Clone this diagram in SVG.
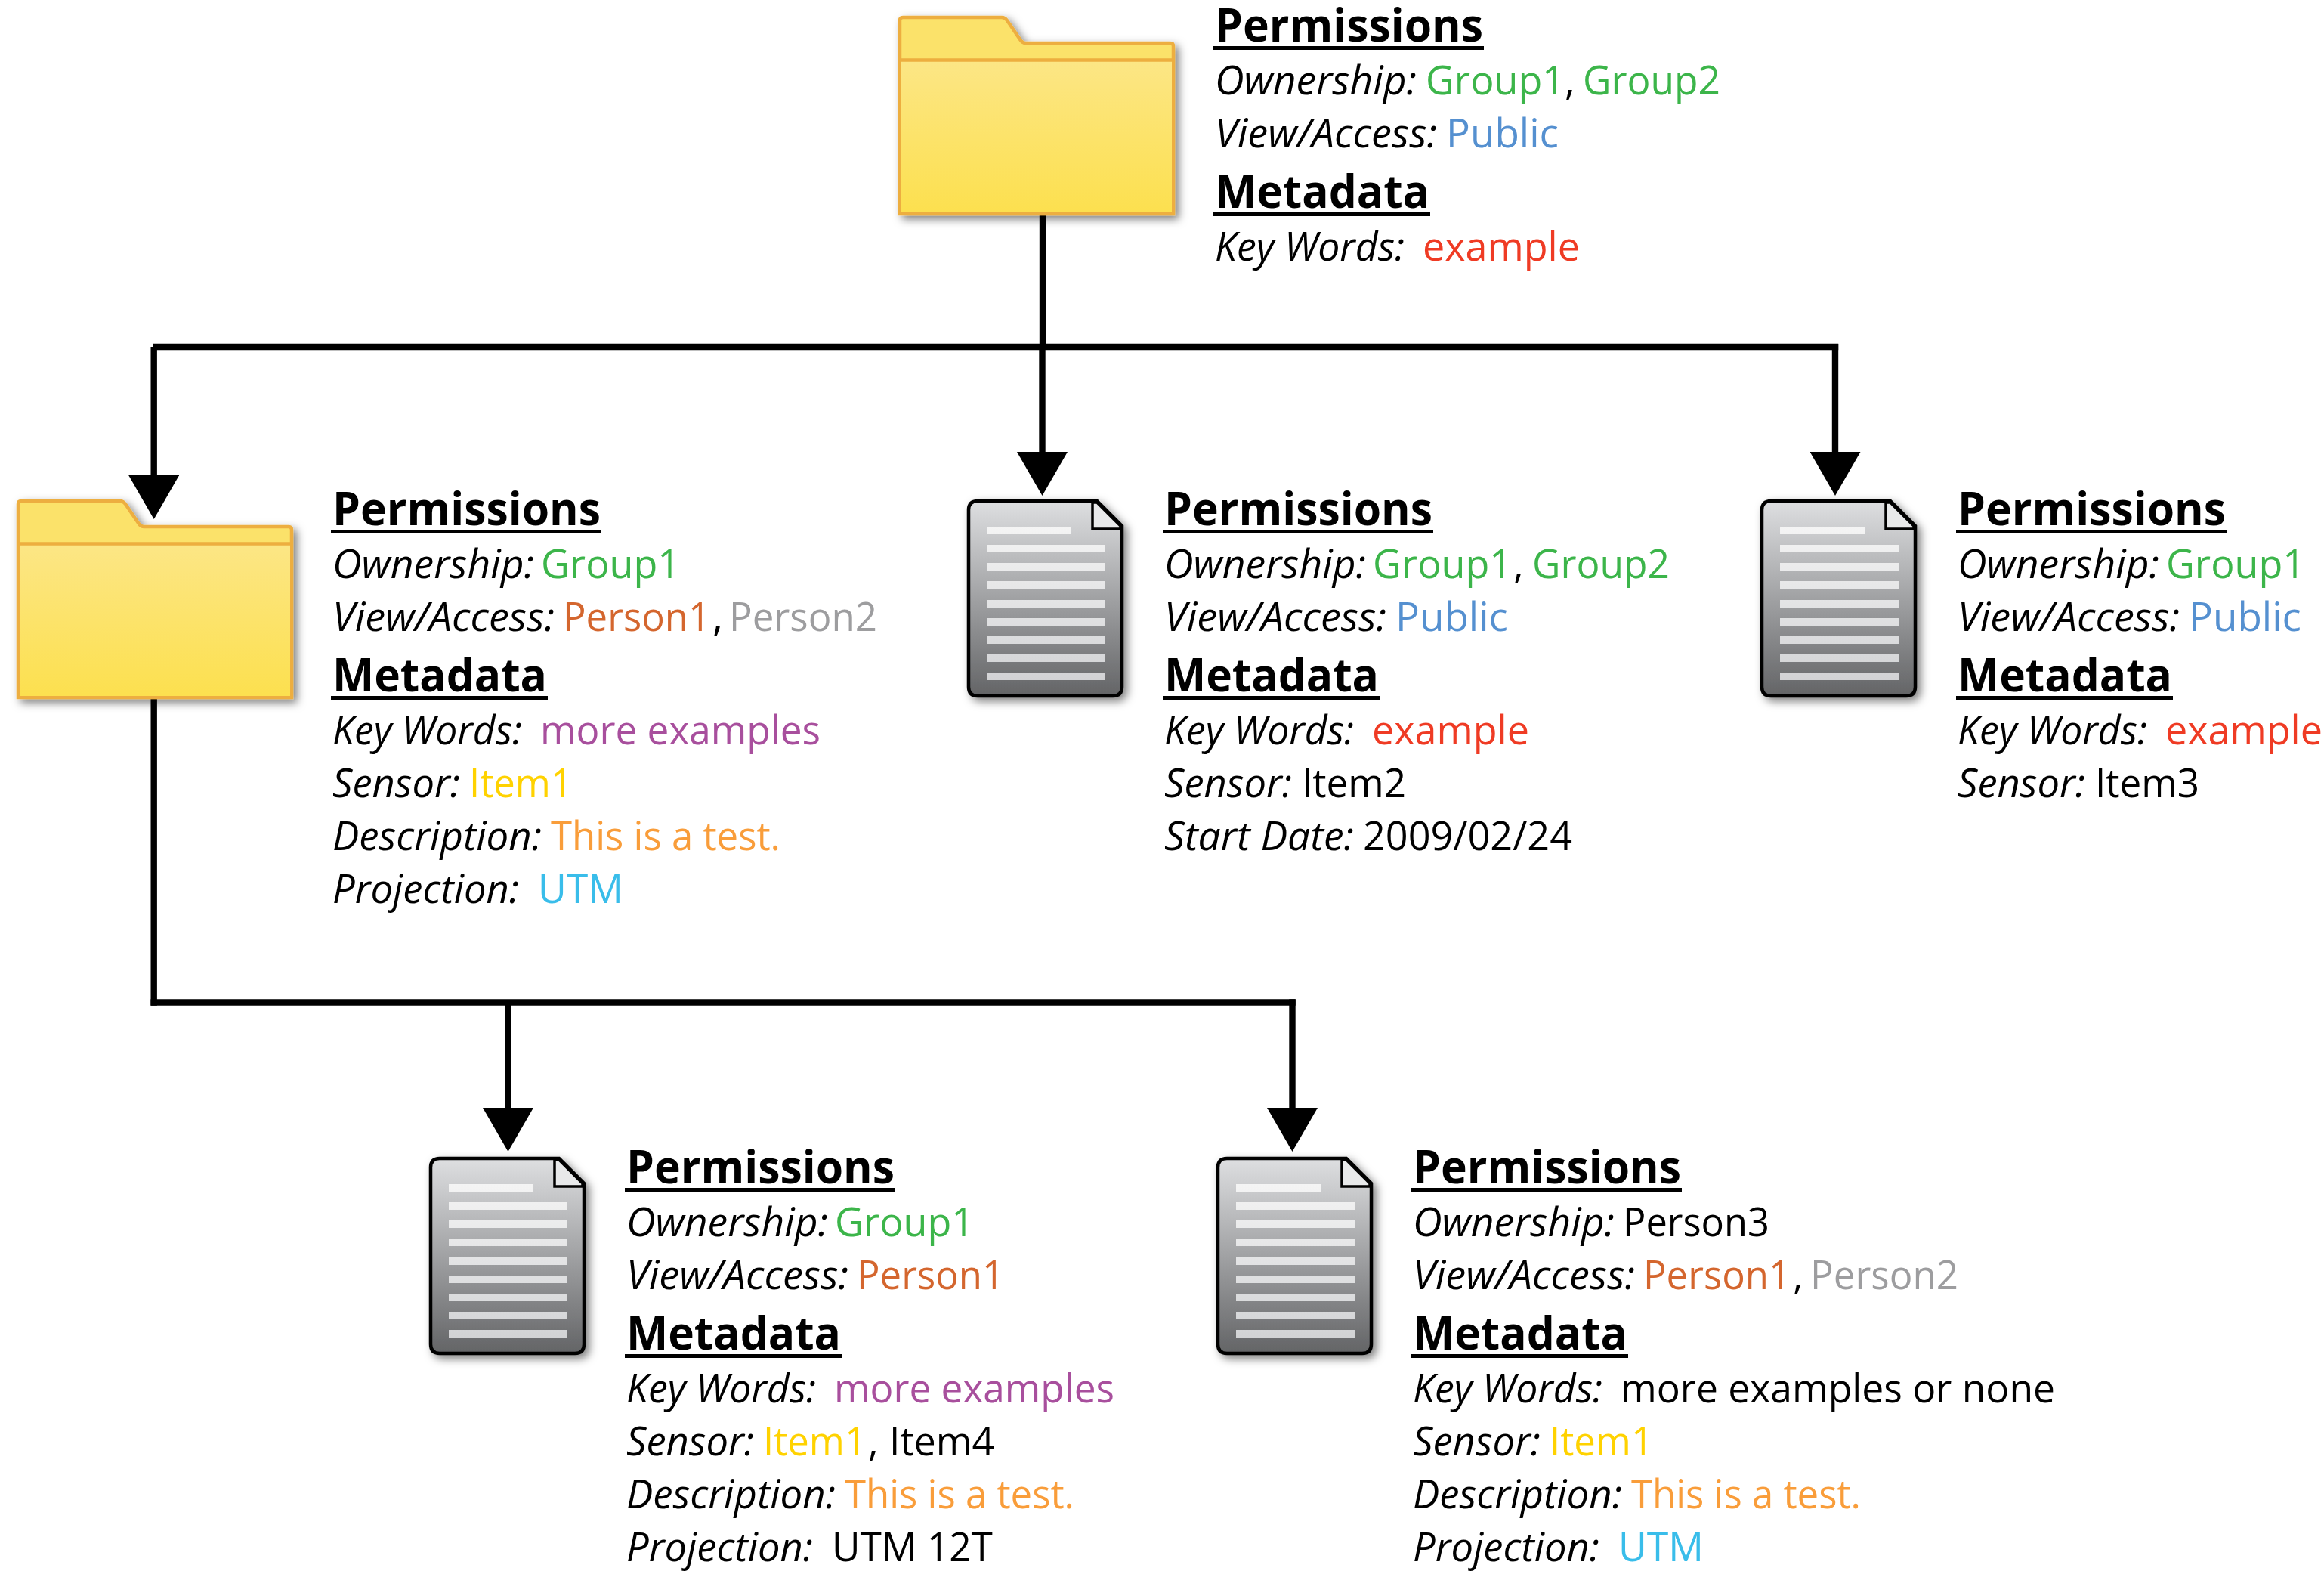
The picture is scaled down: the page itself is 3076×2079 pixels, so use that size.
<svg xmlns="http://www.w3.org/2000/svg" width="3076" height="2079" viewBox="0 0 3076 2079">
<style>
text{font-family:"Open Sans","Noto Sans","Liberation Sans",sans-serif;font-size:53px;fill:#000}
.h{font-weight:700;font-size:60px}
.i{font-style:italic}
.g{fill:#3CB54A}.b{fill:#5590D0}.r{fill:#EF3B24}.o{fill:#D4662E}.n{fill:#9D9D9F}.p{fill:#A84F9D}.y{fill:#FFD200}.t{fill:#F99D3A}.c{fill:#39BDEA}
.u{fill:#000}
.conn{fill:none;stroke:#000;stroke-width:8.400;stroke-linejoin:miter}
</style>
<defs>
<filter id="shadow" x="-15%" y="-15%" width="130%" height="130%"><feDropShadow dx="5" dy="5" stdDeviation="6" flood-color="#000" flood-opacity="0.5"/></filter>
<linearGradient id="fg" x1="0" y1="0" x2="0" y2="1"><stop offset="0" stop-color="#FCE685"/><stop offset="1" stop-color="#FCE04F"/></linearGradient>
<linearGradient id="dg" x1="0" y1="0" x2="0" y2="1"><stop offset="0" stop-color="#DEDFE1"/><stop offset="1" stop-color="#636466"/></linearGradient>
<linearGradient id="lg" gradientUnits="userSpaceOnUse" x1="0" y1="697" x2="0" y2="900"><stop offset="0" stop-color="#F4F4F4"/><stop offset="1" stop-color="#D2D3D5"/></linearGradient>
<marker id="ah" markerUnits="userSpaceOnUse" markerWidth="58" markerHeight="67" viewBox="0 0 58 67" refX="1" refY="33.500" orient="auto"><path d="M0 0L58 33.500L0 67Z" fill="#000"/></marker>
<g id="folder">
<path d="M1191 283V27Q1191 23 1195 23H1326Q1330 23 1333 27L1350 52Q1353 57 1358 57H1549Q1553 57 1553 61V283Z" fill="#FBE26B" stroke="#EDAE3F" stroke-width="4.500" filter="url(#shadow)"/>
<rect x="1193" y="81" width="358" height="200" fill="url(#fg)"/>
<path d="M1191 79.500H1553" stroke="#EDAE3F" stroke-width="4.500"/>
</g>
<g id="doc">
<path d="M1294 663H1452L1485 696V909Q1485 921 1473 921H1294Q1282 921 1282 909V675Q1282 663 1294 663Z" fill="url(#dg)" stroke="#000" stroke-width="4.500" filter="url(#shadow)"/>
<path d="M1446 665H1452L1483 696V700H1446Z" fill="#E8E9EA" stroke="#000" stroke-width="3.500"/>
<g fill="url(#lg)">
<rect x="1306" y="697" width="112" height="10"/><rect x="1306" y="721" width="157" height="10"/><rect x="1306" y="745" width="157" height="10"/><rect x="1306" y="769" width="157" height="10"/><rect x="1306" y="794" width="157" height="10"/><rect x="1306" y="818" width="157" height="10"/><rect x="1306" y="842" width="157" height="10"/><rect x="1306" y="866" width="157" height="10"/><rect x="1306" y="890" width="157" height="10"/>
</g>
</g>
<g id="ul"><rect class="u" x="-2" y="6" width="358" height="5"/><rect class="u" x="-2" y="226" width="287" height="5"/></g>
</defs>

<g id="connectors">
<path class="conn" d="M1380 285V459"/>
<path class="conn" d="M203 459H2433.200"/>
<path class="conn" d="M203.700 459V630" marker-end="url(#ah)"/>
<path class="conn" d="M1379.500 459V599" marker-end="url(#ah)"/>
<path class="conn" d="M2429 455V599" marker-end="url(#ah)"/>
<path class="conn" d="M203.700 925V1330.700"/>
<path class="conn" d="M199.500 1326.500H1714.700"/>
<path class="conn" d="M672.500 1326.500V1467" marker-end="url(#ah)"/>
<path class="conn" d="M1710.500 1322.300V1467" marker-end="url(#ah)"/>
</g>

<g id="node-root">
<use href="#folder"/>
<g transform="translate(1608,55)"><use href="#ul"/>
<text class="h" x="0" y="0" textLength="355" lengthAdjust="spacingAndGlyphs">Permissions</text>
<text class="h" x="0" y="220" textLength="284" lengthAdjust="spacingAndGlyphs">Metadata</text>
<text class="i" x="0" y="70" textLength="267" lengthAdjust="spacingAndGlyphs">Ownership:</text>
<text class="i" x="0" y="140" textLength="294" lengthAdjust="spacingAndGlyphs">View/Access:</text>
<text class="i" x="0" y="290" textLength="251" lengthAdjust="spacingAndGlyphs">Key Words:</text>
<text class="g" x="279" y="70" textLength="184" lengthAdjust="spacingAndGlyphs">Group1</text><text x="463" y="70">,</text><text class="g" x="487" y="70" textLength="182" lengthAdjust="spacingAndGlyphs">Group2</text>
<text class="b" x="306" y="140" textLength="149" lengthAdjust="spacingAndGlyphs">Public</text>
<text class="r" x="275" y="290" textLength="208" lengthAdjust="spacingAndGlyphs">example</text>
</g>
</g>

<g id="node-folder2">
<use href="#folder" transform="translate(-1167,640)"/>
<g transform="translate(440,695)"><use href="#ul"/>
<text class="h" x="0" y="0" textLength="355" lengthAdjust="spacingAndGlyphs">Permissions</text>
<text class="h" x="0" y="220" textLength="284" lengthAdjust="spacingAndGlyphs">Metadata</text>
<text class="i" x="0" y="70" textLength="267" lengthAdjust="spacingAndGlyphs">Ownership:</text>
<text class="i" x="0" y="140" textLength="294" lengthAdjust="spacingAndGlyphs">View/Access:</text>
<text class="i" x="0" y="290" textLength="251" lengthAdjust="spacingAndGlyphs">Key Words:</text>
<text class="g" x="276" y="70" textLength="184" lengthAdjust="spacingAndGlyphs">Group1</text>
<text class="o" x="305" y="140" textLength="195" lengthAdjust="spacingAndGlyphs">Person1</text><text x="503" y="140">,</text><text class="n" x="525" y="140" textLength="196" lengthAdjust="spacingAndGlyphs">Person2</text>
<text class="p" x="275" y="290" textLength="371" lengthAdjust="spacingAndGlyphs">more examples</text>
<text class="i" x="0" y="360" textLength="169" lengthAdjust="spacingAndGlyphs">Sensor:</text><text class="y" x="181" y="360" textLength="137" lengthAdjust="spacingAndGlyphs">Item1</text>
<text class="i" x="0" y="430" textLength="277" lengthAdjust="spacingAndGlyphs">Description:</text><text class="t" x="289" y="430" textLength="304" lengthAdjust="spacingAndGlyphs">This is a test.</text>
<text class="i" x="0" y="500" textLength="247" lengthAdjust="spacingAndGlyphs">Projection:</text><text class="c" x="272" y="500" textLength="113" lengthAdjust="spacingAndGlyphs">UTM</text>
</g>
</g>

<g id="node-doc2">
<use href="#doc"/>
<g transform="translate(1541,695)"><use href="#ul"/>
<text class="h" x="0" y="0" textLength="355" lengthAdjust="spacingAndGlyphs">Permissions</text>
<text class="h" x="0" y="220" textLength="284" lengthAdjust="spacingAndGlyphs">Metadata</text>
<text class="i" x="0" y="70" textLength="267" lengthAdjust="spacingAndGlyphs">Ownership:</text>
<text class="i" x="0" y="140" textLength="294" lengthAdjust="spacingAndGlyphs">View/Access:</text>
<text class="i" x="0" y="290" textLength="251" lengthAdjust="spacingAndGlyphs">Key Words:</text>
<text class="g" x="276" y="70" textLength="184" lengthAdjust="spacingAndGlyphs">Group1</text><text x="462" y="70">,</text><text class="g" x="487" y="70" textLength="182" lengthAdjust="spacingAndGlyphs">Group2</text>
<text class="b" x="306" y="140" textLength="149" lengthAdjust="spacingAndGlyphs">Public</text>
<text class="r" x="275" y="290" textLength="208" lengthAdjust="spacingAndGlyphs">example</text>
<text class="i" x="0" y="360" textLength="169" lengthAdjust="spacingAndGlyphs">Sensor:</text><text x="182" y="360" textLength="138" lengthAdjust="spacingAndGlyphs">Item2</text>
<text class="i" x="0" y="430" textLength="251" lengthAdjust="spacingAndGlyphs">Start Date:</text><text x="263" y="430" textLength="277" lengthAdjust="spacingAndGlyphs">2009/02/24</text>
</g>
</g>

<g id="node-doc3">
<use href="#doc" transform="translate(1050,0)"/>
<g transform="translate(2591,695)"><use href="#ul"/>
<text class="h" x="0" y="0" textLength="355" lengthAdjust="spacingAndGlyphs">Permissions</text>
<text class="h" x="0" y="220" textLength="284" lengthAdjust="spacingAndGlyphs">Metadata</text>
<text class="i" x="0" y="70" textLength="267" lengthAdjust="spacingAndGlyphs">Ownership:</text>
<text class="i" x="0" y="140" textLength="294" lengthAdjust="spacingAndGlyphs">View/Access:</text>
<text class="i" x="0" y="290" textLength="251" lengthAdjust="spacingAndGlyphs">Key Words:</text>
<text class="g" x="276" y="70" textLength="184" lengthAdjust="spacingAndGlyphs">Group1</text>
<text class="b" x="306" y="140" textLength="149" lengthAdjust="spacingAndGlyphs">Public</text>
<text class="r" x="275" y="290" textLength="208" lengthAdjust="spacingAndGlyphs">example</text>
<text class="i" x="0" y="360" textLength="169" lengthAdjust="spacingAndGlyphs">Sensor:</text><text x="182" y="360" textLength="138" lengthAdjust="spacingAndGlyphs">Item3</text>
</g>
</g>

<g id="node-doc4">
<use href="#doc" transform="translate(-712,870)"/>
<g transform="translate(829,1566)"><use href="#ul"/>
<text class="h" x="0" y="0" textLength="355" lengthAdjust="spacingAndGlyphs">Permissions</text>
<text class="h" x="0" y="220" textLength="284" lengthAdjust="spacingAndGlyphs">Metadata</text>
<text class="i" x="0" y="70" textLength="267" lengthAdjust="spacingAndGlyphs">Ownership:</text>
<text class="i" x="0" y="140" textLength="294" lengthAdjust="spacingAndGlyphs">View/Access:</text>
<text class="i" x="0" y="290" textLength="251" lengthAdjust="spacingAndGlyphs">Key Words:</text>
<text class="g" x="276" y="70" textLength="184" lengthAdjust="spacingAndGlyphs">Group1</text>
<text class="o" x="305" y="140" textLength="195" lengthAdjust="spacingAndGlyphs">Person1</text>
<text class="p" x="275" y="290" textLength="371" lengthAdjust="spacingAndGlyphs">more examples</text>
<text class="i" x="0" y="360" textLength="169" lengthAdjust="spacingAndGlyphs">Sensor:</text><text class="y" x="181" y="360" textLength="137" lengthAdjust="spacingAndGlyphs">Item1</text><text x="320" y="360">,</text><text x="348" y="360" textLength="139" lengthAdjust="spacingAndGlyphs">Item4</text>
<text class="i" x="0" y="430" textLength="277" lengthAdjust="spacingAndGlyphs">Description:</text><text class="t" x="289" y="430" textLength="304" lengthAdjust="spacingAndGlyphs">This is a test.</text>
<text class="i" x="0" y="500" textLength="247" lengthAdjust="spacingAndGlyphs">Projection:</text><text x="272" y="500" textLength="213" lengthAdjust="spacingAndGlyphs">UTM 12T</text>
</g>
</g>

<g id="node-doc5">
<use href="#doc" transform="translate(330,870)"/>
<g transform="translate(1870,1566)"><use href="#ul"/>
<text class="h" x="0" y="0" textLength="355" lengthAdjust="spacingAndGlyphs">Permissions</text>
<text class="h" x="0" y="220" textLength="284" lengthAdjust="spacingAndGlyphs">Metadata</text>
<text class="i" x="0" y="70" textLength="267" lengthAdjust="spacingAndGlyphs">Ownership:</text>
<text class="i" x="0" y="140" textLength="294" lengthAdjust="spacingAndGlyphs">View/Access:</text>
<text class="i" x="0" y="290" textLength="251" lengthAdjust="spacingAndGlyphs">Key Words:</text>
<text x="278" y="70" textLength="194" lengthAdjust="spacingAndGlyphs">Person3</text>
<text class="o" x="305" y="140" textLength="195" lengthAdjust="spacingAndGlyphs">Person1</text><text x="503" y="140">,</text><text class="n" x="526" y="140" textLength="196" lengthAdjust="spacingAndGlyphs">Person2</text>
<text x="275" y="290" textLength="575" lengthAdjust="spacingAndGlyphs">more examples or none</text>
<text class="i" x="0" y="360" textLength="169" lengthAdjust="spacingAndGlyphs">Sensor:</text><text class="y" x="181" y="360" textLength="137" lengthAdjust="spacingAndGlyphs">Item1</text>
<text class="i" x="0" y="430" textLength="277" lengthAdjust="spacingAndGlyphs">Description:</text><text class="t" x="289" y="430" textLength="304" lengthAdjust="spacingAndGlyphs">This is a test.</text>
<text class="i" x="0" y="500" textLength="247" lengthAdjust="spacingAndGlyphs">Projection:</text><text class="c" x="272" y="500" textLength="113" lengthAdjust="spacingAndGlyphs">UTM</text>
</g>
</g>
</svg>
